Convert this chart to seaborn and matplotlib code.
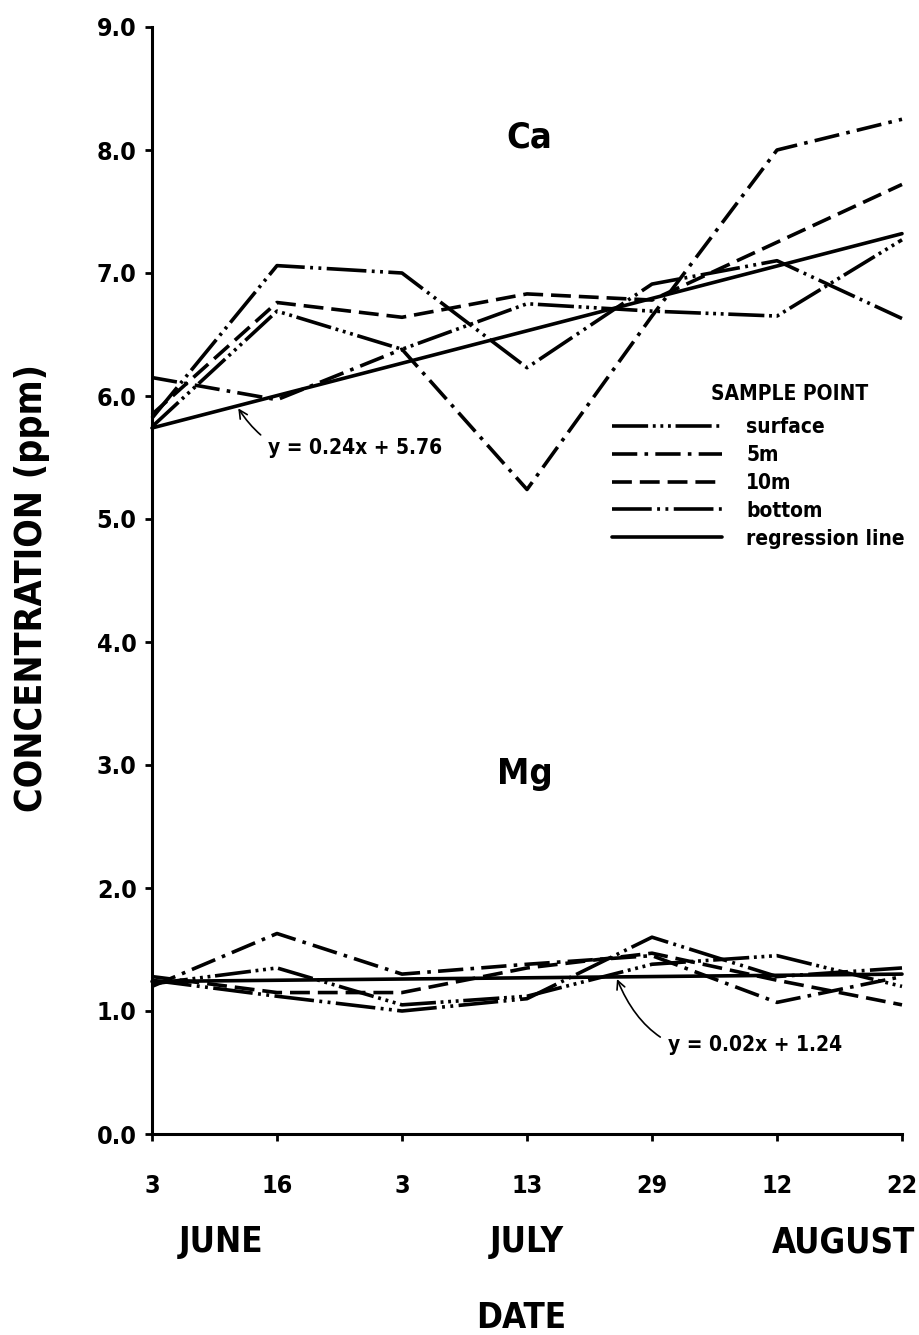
import numpy as np
import pandas as pd
import matplotlib
matplotlib.use("Agg")
import matplotlib.pyplot as plt
from matplotlib.lines import Line2D
import seaborn as sns

# sampling dates, drawn evenly spaced along the x axis
date_labels = ["3", "16", "3", "13", "29", "12", "22"]
month_labels = ["JUNE", "JULY", "AUGUST"]
month_pos = [0.55, 3.0, 5.53]
series_names = ["surface", "5m", "10m", "bottom", "regression line"]

# calcium (ppm)
ca_surface = [5.75, 6.69, 6.38, 6.75, 6.69, 6.65, 7.27]
ca_5m = [6.15, 5.97, 6.38, 5.24, 6.65, 8.00, 8.25]
ca_10m = [5.85, 6.76, 6.64, 6.83, 6.78, 7.25, 7.72]
ca_bottom = [5.82, 7.06, 7.00, 6.23, 6.91, 7.10, 6.63]
ca_regression = [5.74, 7.32]

# magnesium (ppm)
mg_surface = [1.22, 1.35, 1.05, 1.12, 1.38, 1.45, 1.20]
mg_5m = [1.20, 1.63, 1.30, 1.38, 1.45, 1.07, 1.28]
mg_10m = [1.28, 1.15, 1.15, 1.35, 1.47, 1.25, 1.05]
mg_bottom = [1.25, 1.12, 1.00, 1.10, 1.60, 1.28, 1.35]
mg_regression = [1.24, 1.30]

# dash patterns in units of line width
line_dashes = {
    "surface": (10, 1.3, 0.8, 1.3, 0.8, 1.3, 0.8, 1.3),
    "5m": (7, 2, 1, 2),
    "10m": (5.5, 2.2),
    "bottom": (11, 1.5, 0.8, 1.5, 0.8, 1.5),
    "regression line": "",
}


def long_frame(surface, m5, m10, bottom, regression):
    rows = []
    for name, vals in zip(series_names[:4], [surface, m5, m10, bottom]):
        for i, v in enumerate(vals):
            rows.append((i, v, name))
    # regression line only needs its two end points
    for i, v in zip([0, len(date_labels) - 1], regression):
        rows.append((i, v, "regression line"))
    return pd.DataFrame(rows, columns=["idx", "value", "series"])


ca_df = long_frame(ca_surface, ca_5m, ca_10m, ca_bottom, ca_regression)
mg_df = long_frame(mg_surface, mg_5m, mg_10m, mg_bottom, mg_regression)

sns.set_style("ticks")
plt.rcParams["font.family"] = ["DejaVu Sans"]
plt.rcParams["font.stretch"] = "condensed"
plt.rcParams["font.weight"] = "bold"
plt.rcParams["text.color"] = "black"

fig = plt.figure(figsize=(9.19, 13.35), dpi=100)
ax = fig.add_axes([152 / 919, 201 / 1335, 750 / 919, 1107 / 1335])

for df in (ca_df, mg_df):
    sns.lineplot(data=df, x="idx", y="value", style="series", style_order=series_names,
                 dashes=line_dashes, color="black", linewidth=2.6, legend=False,
                 errorbar=None, sort=False, ax=ax)

for line in ax.lines:
    line.set_clip_on(False)

ax.set_xlim(0, 6)
ax.set_ylim(0, 9)
ax.set_xticks(range(len(date_labels)))
ax.set_xticklabels(date_labels)
yticks = np.arange(0, 10)
ax.set_yticks(yticks)
ax.set_yticklabels([f"{v:.1f}" for v in yticks])
ax.set_xlabel("")
ax.set_ylabel("")
sns.despine(ax=ax)
for side in ["left", "bottom"]:
    ax.spines[side].set_linewidth(2.2)
    ax.spines[side].set_color("black")
ax.tick_params(axis="y", length=5, width=2, pad=6, labelsize=18, colors="black")
ax.tick_params(axis="x", length=5, width=2, pad=24, labelsize=18, colors="black")
for lab in ax.get_xticklabels() + ax.get_yticklabels():
    lab.set_fontweight("bold")

# element labels
ax.text(3.02, 8.1, "Ca", fontsize=26, fontweight="bold", ha="center", va="center")
ax.text(2.98, 2.93, "Mg", fontsize=26, fontweight="bold", ha="center", va="center")

# regression equations with hooked arrows
ax.annotate("y = 0.24x + 5.76", xy=(0.69, 5.9), xytext=(0.93, 5.58),
            fontsize=15, ha="left", va="center",
            arrowprops=dict(arrowstyle="->", color="black", lw=1.2,
                            connectionstyle="arc3,rad=-0.4", shrinkA=4, shrinkB=0))
ax.annotate("y = 0.02x + 1.24", xy=(3.72, 1.26), xytext=(4.13, 0.72),
            fontsize=15, ha="left", va="center",
            arrowprops=dict(arrowstyle="->", color="black", lw=1.2,
                            connectionstyle="arc3,rad=-0.45", shrinkA=4, shrinkB=0))

# month names and axis titles
xmix = ax.get_xaxis_transform()
for name, pos in zip(month_labels, month_pos):
    ax.text(pos, -0.0976, name, transform=xmix, fontsize=25, fontweight="bold",
            ha="center", va="center")
ax.text(2.95, -0.166, "DATE", transform=xmix, fontsize=25, fontweight="bold",
        ha="center", va="center")
fig.text(32 / 919, 1 - 588 / 1335, "CONCENTRATION (ppm)", rotation=90,
         fontsize=27, fontweight="bold", ha="center", va="center")

# legend
handles = [Line2D([0], [0], color="black", linewidth=2.6,
                  linestyle=(0, line_dashes[n]) if line_dashes[n] else "-")
           for n in series_names]
fig.text(790 / 919, 1 - 394 / 1335, "SAMPLE POINT", fontsize=15, fontweight="bold",
         ha="center", va="center")
fig.legend(handles, series_names, loc="upper left", bbox_to_anchor=(612 / 919, 1 - 417 / 1335),
           frameon=False, fontsize=15, handlelength=5.3, handletextpad=1.15,
           labelspacing=0.38, borderpad=0, borderaxespad=0)

fig.savefig("out.png", dpi=100, facecolor="white")
